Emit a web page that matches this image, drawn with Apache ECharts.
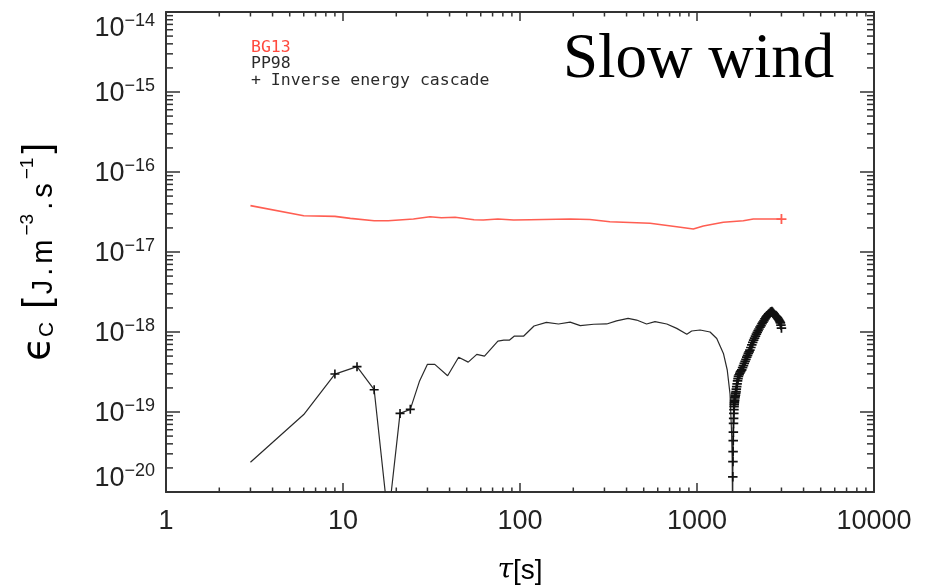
<!DOCTYPE html>
<html>
<head>
<meta charset="utf-8">
<script src="https://cdn.jsdelivr.net/npm/echarts@6/dist/echarts.min.js"></script>
<style>
  html, body { margin: 0; padding: 0; background: #ffffff; }
  #chart { width: 944px; height: 587px; }
</style>
</head>
<body>
<div id="chart"></div>
<script>
// Lag tau [s] and cascade rate eps_C [J m^-3 s^-1], slow solar wind.

// BG13 estimate
const bgTau = [3, 6, 9, 11, 15, 18, 25, 31, 36, 43, 55, 62, 75, 92, 114, 192, 248, 322, 543, 768, 953, 1086, 1409, 1827, 2080, 3000];
const bgVal = [3.8e-17, 2.84e-17, 2.79e-17, 2.63e-17, 2.46e-17, 2.46e-17, 2.58e-17, 2.76e-17, 2.68e-17, 2.72e-17, 2.53e-17, 2.51e-17, 2.58e-17, 2.51e-17, 2.53e-17, 2.58e-17, 2.55e-17, 2.39e-17, 2.29e-17, 2.07e-17, 1.94e-17, 2.11e-17, 2.35e-17, 2.46e-17, 2.58e-17, 2.58e-17];

// PP98 estimate (absolute value), direct cascade part
const ppTau = [3, 6, 9, 12, 15, 18, 21, 24, 27, 30, 33, 39, 45, 51, 57, 63, 75, 81, 87, 93, 105, 120, 141, 165, 192, 219, 261, 309, 351, 408, 456, 519, 579, 675, 768, 876, 933, 1041, 1185, 1293, 1410, 1482, 1536, 1569, 1581, 1590];
const ppVal = [2.35e-20, 9.3e-20, 2.98e-19, 3.69e-19, 1.9e-19, 4.5e-21, 9.6e-20, 1.08e-19, 2.4e-19, 3.94e-19, 3.94e-19, 2.84e-19, 4.83e-19, 4.2e-19, 5.25e-19, 5.0e-19, 7.7e-19, 7.9e-19, 7.9e-19, 8.9e-19, 8.9e-19, 1.19e-18, 1.32e-18, 1.26e-18, 1.33e-18, 1.2e-18, 1.25e-18, 1.26e-18, 1.38e-18, 1.48e-18, 1.41e-18, 1.26e-18, 1.35e-18, 1.26e-18, 1.11e-18, 9.4e-19, 1.03e-18, 1.06e-18, 1.0e-18, 8.3e-19, 5.4e-19, 3.35e-19, 1.7e-19, 5.4e-20, 2.5e-20, 3e-21];

// PP98 estimate, large-lag branch after the sign change (inverse cascade)
const ppTailTau = [1593, 1596, 1599, 1602, 1605, 1608, 1611, 1614, 1617, 1620, 1623, 1626, 1629, 1632, 1638, 1644, 1650, 1656, 1662, 1668, 1676, 1685, 1695, 1705, 1715, 1730, 1745, 1760, 1775, 1790, 1810, 1830, 1850, 1870, 1890, 1910, 1930, 1950, 1970, 1990, 2015, 2040, 2065, 2090, 2115, 2140, 2165, 2190, 2215, 2240, 2270, 2300, 2330, 2360, 2390, 2420, 2450, 2480, 2510, 2540, 2570, 2600, 2625, 2650, 2675, 2700, 2730, 2760, 2790, 2820, 2850, 2880, 2910, 2940, 2960, 2980, 3000];
const ppTailVal = [1.55e-20, 2.4e-20, 3.2e-20, 4.4e-20, 5.6e-20, 7.2e-20, 8.3e-20, 9.6e-20, 1.07e-19, 1.17e-19, 1.24e-19, 1.3e-19, 1.36e-19, 1.41e-19, 1.5e-19, 1.57e-19, 1.63e-19, 1.72e-19, 1.8e-19, 1.93e-19, 2.08e-19, 2.25e-19, 2.45e-19, 2.62e-19, 2.78e-19, 2.92e-19, 3.05e-19, 3.18e-19, 3.28e-19, 3.37e-19, 3.58e-19, 3.8e-19, 4.05e-19, 4.3e-19, 4.55e-19, 4.85e-19, 5.1e-19, 5.4e-19, 5.65e-19, 5.95e-19, 6.4e-19, 6.9e-19, 7.4e-19, 7.9e-19, 8.4e-19, 8.9e-19, 9.4e-19, 9.9e-19, 1.04e-18, 1.09e-18, 1.15e-18, 1.2e-18, 1.27e-18, 1.33e-18, 1.39e-18, 1.46e-18, 1.52e-18, 1.58e-18, 1.63e-18, 1.68e-18, 1.72e-18, 1.76e-18, 1.79e-18, 1.8e-18, 1.76e-18, 1.72e-18, 1.67e-18, 1.62e-18, 1.58e-18, 1.55e-18, 1.5e-18, 1.45e-18, 1.4e-18, 1.35e-18, 1.3e-18, 1.22e-18, 1.12e-18];

// Short lags where the cascade is inverse (flagged with "+"); the whole tail is inverse too
const inverseTau = [9, 12, 15, 21, 24];

const xTickValues = [1, 10, 100, 1000, 10000];
const yExponents = [-20, -19, -18, -17, -16, -15, -14];

const xMin = xTickValues[0], xMax = xTickValues[xTickValues.length - 1];
const yMin = Math.pow(10, yExponents[0]), yMax = Math.pow(10, yExponents[yExponents.length - 1]);

const PLUS = 'path://M4.1,0H5.9V10H4.1ZM0,4.1H10V5.9H0Z';
const AXIS_COLOR = '#333';
const TEXT_COLOR = '#222';

// Minor ticks at 2..9 of each decade on every side of the box
const minorData = [];
for (let e = 0; e < xTickValues.length - 1; e++) {
  for (let m = 2; m <= 9; m++) minorData.push([m * xTickValues[e], 1]);
}
for (let i = 0; i < yExponents.length - 1; i++) {
  for (let m = 2; m <= 9; m++) minorData.push([m * Math.pow(10, yExponents[i]), 2]);
}

const plusItem = (t, v, size) => ({ value: [t, v], symbol: PLUS, symbolSize: size });

const ppData = ppTau.map((t, i) =>
  inverseTau.indexOf(t) >= 0 ? plusItem(t, ppVal[i], 9) : { value: [t, ppVal[i]] }
).concat(ppTailTau.map((t, i) => plusItem(t, ppTailVal[i], 9.5)));

const bgData = bgTau.map((t, i) =>
  i === bgTau.length - 1 ? plusItem(t, bgVal[i], 10) : { value: [t, bgVal[i]] }
);

const supMap = { '-': '\u2212', '0': '0', '1': '1', '2': '2', '3': '3', '4': '4', '5': '5', '6': '6', '7': '7', '8': '8', '9': '9' };

const grid = { left: 166, top: 12, right: 70, bottom: 95, containLabel: false };

const chart = echarts.init(document.getElementById('chart'), null, { renderer: 'canvas' });

const baseAxisLine = { show: true, lineStyle: { color: AXIS_COLOR, width: 2 } };

// rotated axis title, one fragment per glyph so the spacing can be opened up
const yTitleParts = [
  ['e', '\u03f5'], ['c', 'C'], ['gap', ' '],
  ['br', '['], ['n', 'J'], ['n', '.'], ['n', 'm'], ['s', '\u22123'],
  ['n', '.'], ['n', 's'], ['s', '\u22121'], ['br', ']']
];
const yTitleText = yTitleParts.map(p => '{' + p[0] + '|' + p[1] + '}').join('');

chart.setOption({
  backgroundColor: '#ffffff',
  animation: false,
  grid: grid,
  xAxis: [
    {
      type: 'log', logBase: 10, min: xMin, max: xMax,
      position: 'bottom',
      axisLine: baseAxisLine,
      axisTick: { show: true, inside: true, length: 9, lineStyle: { color: AXIS_COLOR, width: 1.5 } },
      minorTick: { show: false },
      splitLine: { show: false },
      axisLabel: {
        show: true, margin: 16,
        fontFamily: 'Liberation Sans', fontSize: 27, color: TEXT_COLOR,
        formatter: v => String(Math.round(v))
      }
    },
    {
      type: 'log', logBase: 10, min: xMin, max: xMax,
      position: 'top',
      axisLine: baseAxisLine,
      axisTick: { show: true, inside: true, length: 9, lineStyle: { color: AXIS_COLOR, width: 1.5 } },
      axisLabel: { show: false },
      splitLine: { show: false }
    }
  ],
  yAxis: [
    {
      type: 'log', logBase: 10, min: yMin, max: yMax,
      position: 'left',
      axisLine: baseAxisLine,
      axisTick: { show: true, inside: true, length: 14, lineStyle: { color: AXIS_COLOR, width: 1.5 } },
      minorTick: { show: false },
      splitLine: { show: false },
      axisLabel: {
        show: true, margin: 11,
        verticalAlignMinLabel: 'bottom',
        verticalAlignMaxLabel: 'top',
        formatter: v => {
          const e = Math.round(Math.log10(v));
          const s = String(e).split('').map(c => supMap[c]).join('');
          return '{b|10}{s|' + s + '}';
        },
        rich: {
          b: { fontFamily: 'Liberation Sans', fontSize: 27, color: TEXT_COLOR, lineHeight: 30, verticalAlign: 'bottom' },
          s: { fontFamily: 'Liberation Sans', fontSize: 18, color: TEXT_COLOR, lineHeight: 18, verticalAlign: 'top' }
        }
      }
    },
    {
      type: 'log', logBase: 10, min: yMin, max: yMax,
      position: 'right',
      axisLine: baseAxisLine,
      axisTick: { show: true, inside: true, length: 14, lineStyle: { color: AXIS_COLOR, width: 1.5 } },
      axisLabel: { show: false },
      splitLine: { show: false }
    }
  ],
  series: [
    {
      // minor ticks on all four sides of the frame
      type: 'custom',
      xAxisIndex: 0, yAxisIndex: 0,
      silent: true, clip: false,
      data: minorData,
      renderItem: (params, api) => {
        const v = api.value(0);
        const kind = api.value(1);
        const style = { stroke: AXIS_COLOR, lineWidth: 1.5 };
        if (kind === 1) {
          const pb = api.coord([v, yMin]);
          const pt = api.coord([v, yMax]);
          const L = 4.5;
          return {
            type: 'group', children: [
              { type: 'line', shape: { x1: pb[0], y1: pb[1], x2: pb[0], y2: pb[1] - L }, style: style },
              { type: 'line', shape: { x1: pt[0], y1: pt[1], x2: pt[0], y2: pt[1] + L }, style: style }
            ]
          };
        }
        const pl = api.coord([xMin, v]);
        const pr = api.coord([xMax, v]);
        const L = 7;
        return {
          type: 'group', children: [
            { type: 'line', shape: { x1: pl[0], y1: pl[1], x2: pl[0] + L, y2: pl[1] }, style: style },
            { type: 'line', shape: { x1: pr[0], y1: pr[1], x2: pr[0] - L, y2: pr[1] }, style: style }
          ]
        };
      }
    },
    {
      name: 'BG13',
      type: 'line',
      xAxisIndex: 0, yAxisIndex: 0,
      data: bgData,
      symbol: 'none',
      showSymbol: true,
      clip: true,
      lineStyle: { color: '#ff5e52', width: 1.6 },
      itemStyle: { color: '#ff5e52' }
    },
    {
      name: 'PP98',
      type: 'line',
      xAxisIndex: 0, yAxisIndex: 0,
      data: ppData,
      symbol: 'none',
      showSymbol: true,
      clip: true,
      lineStyle: { color: '#2a2a2a', width: 1.2 },
      itemStyle: { color: '#111' }
    }
  ],
  graphic: [
    {
      type: 'text', left: 251, top: 39,
      style: { text: 'BG13', fill: '#ff4a3e', font: '16.5px "DejaVu Sans Mono"' }
    },
    {
      type: 'text', left: 251, top: 55,
      style: { text: 'PP98', fill: '#2a2a2a', font: '16.5px "DejaVu Sans Mono"' }
    },
    {
      type: 'text', left: 251, top: 72,
      style: { text: '+ Inverse energy cascade', fill: '#2a2a2a', font: '16.5px "DejaVu Sans Mono"' }
    },
    {
      type: 'text', left: 563, top: 29,
      style: { text: 'Slow wind', fill: '#000', font: '63px "Liberation Serif"' }
    },
    {
      type: 'text', x: 520, y: 571,
      style: {
        text: '{t|\u03c4}{n|[s]}',
        align: 'center', verticalAlign: 'middle',
        rich: {
          t: { fontFamily: 'DejaVu Serif', fontStyle: 'italic', fontSize: 28, color: TEXT_COLOR },
          n: { fontFamily: 'Liberation Sans', fontSize: 28, color: TEXT_COLOR }
        }
      }
    },
    {
      type: 'text', x: 38, y: 251, rotation: Math.PI / 2,
      style: {
        text: yTitleText,
        align: 'center', verticalAlign: 'middle',
        rich: {
          e: { fontFamily: 'DejaVu Sans', fontSize: 39, color: TEXT_COLOR, lineHeight: 40, verticalAlign: 'bottom' },
          c: { fontFamily: 'Liberation Sans', fontSize: 21, color: TEXT_COLOR, lineHeight: 30, verticalAlign: 'bottom' },
          gap: { fontSize: 21, lineHeight: 20, width: 11 },
          br: { fontFamily: 'Liberation Sans', fontSize: 38, color: TEXT_COLOR, lineHeight: 40, verticalAlign: 'bottom', padding: [0, 2, 0, 2] },
          n: { fontFamily: 'Liberation Sans', fontSize: 29, color: TEXT_COLOR, lineHeight: 36, verticalAlign: 'bottom', padding: [0, 2, 0, 2] },
          s: { fontFamily: 'Liberation Sans', fontSize: 19, color: TEXT_COLOR, lineHeight: 19, verticalAlign: 'top', padding: [0, 2, 0, 2] }
        }
      }
    }
  ]
});
</script>
</body>
</html>
